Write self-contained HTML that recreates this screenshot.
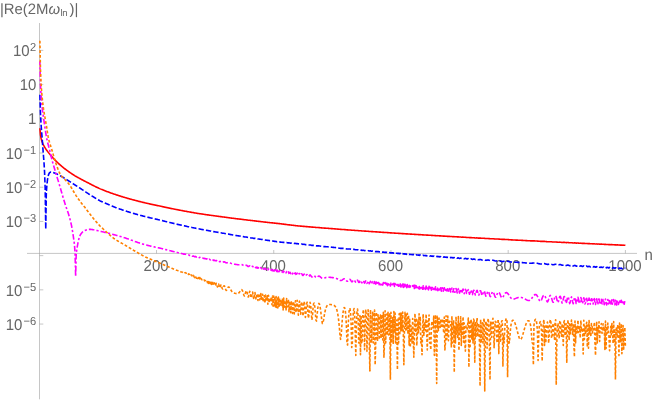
<!DOCTYPE html>
<html>
<head>
<meta charset="utf-8">
<title>|Re(2M omega_ln)| vs n</title>
<style>
html,body{margin:0;padding:0;background:#ffffff;}
body{width:654px;height:401px;overflow:hidden;}
svg{display:block;}
text{font-family:"Liberation Sans",sans-serif;fill:#666666;text-rendering:geometricPrecision;}
.t{font-size:15px;}
.s{font-size:11.1px;}
.ttl{font-size:15px;}
.sub{font-size:9.5px;letter-spacing:-0.4px;}
.c{fill:none;stroke-width:1.6;stroke-linejoin:round;stroke-linecap:butt;}
</style>
</head>
<body>
<svg width="654" height="401" viewBox="0 0 654 401">
<defs><filter id="soft" x="-2%" y="-2%" width="104%" height="104%"><feGaussianBlur stdDeviation="0.25"/></filter></defs>
<rect x="0" y="0" width="654" height="401" fill="#ffffff"/>
<g shape-rendering="auto">
<line x1="39.5" y1="23" x2="39.5" y2="399.3" stroke="#a0a0a0" stroke-width="0.6"/>
<line x1="27" y1="253.4" x2="637" y2="253.4" stroke="#a0a0a0" stroke-width="0.6"/>
<line x1="39.5" y1="50.38" x2="43.3" y2="50.38" stroke="#a0a0a0" stroke-width="0.6"/>
<line x1="39.5" y1="84.59" x2="43.3" y2="84.59" stroke="#a0a0a0" stroke-width="0.6"/>
<line x1="39.5" y1="118.80" x2="43.3" y2="118.80" stroke="#a0a0a0" stroke-width="0.6"/>
<line x1="39.5" y1="153.01" x2="43.3" y2="153.01" stroke="#a0a0a0" stroke-width="0.6"/>
<line x1="39.5" y1="187.22" x2="43.3" y2="187.22" stroke="#a0a0a0" stroke-width="0.6"/>
<line x1="39.5" y1="221.43" x2="43.3" y2="221.43" stroke="#a0a0a0" stroke-width="0.6"/>
<line x1="39.5" y1="255.64" x2="43.3" y2="255.64" stroke="#a0a0a0" stroke-width="0.6"/>
<line x1="39.5" y1="289.85" x2="43.3" y2="289.85" stroke="#a0a0a0" stroke-width="0.6"/>
<line x1="39.5" y1="324.06" x2="43.3" y2="324.06" stroke="#a0a0a0" stroke-width="0.6"/>
<line x1="156.52" y1="250" x2="156.52" y2="253.4" stroke="#a0a0a0" stroke-width="0.6"/>
<line x1="273.74" y1="250" x2="273.74" y2="253.4" stroke="#a0a0a0" stroke-width="0.6"/>
<line x1="390.96" y1="250" x2="390.96" y2="253.4" stroke="#a0a0a0" stroke-width="0.6"/>
<line x1="508.18" y1="250" x2="508.18" y2="253.4" stroke="#a0a0a0" stroke-width="0.6"/>
<line x1="625.40" y1="250" x2="625.40" y2="253.4" stroke="#a0a0a0" stroke-width="0.6"/>
</g>
<g filter="url(#soft)">
<text transform="translate(156.12,270.50) scale(1.0,1.05)" text-anchor="middle" class="t">200</text>
<text transform="translate(273.34,270.50) scale(1.0,1.05)" text-anchor="middle" class="t">400</text>
<text transform="translate(390.56,270.50) scale(1.0,1.05)" text-anchor="middle" class="t">600</text>
<text transform="translate(507.78,270.50) scale(1.0,1.05)" text-anchor="middle" class="t">800</text>
<text transform="translate(625.00,270.50) scale(1.0,1.05)" text-anchor="middle" class="t">1000</text>
<text transform="translate(36.20,56.38) scale(1.0,1.05)" text-anchor="end" class="t">10<tspan dy="-4.9" dx="0.4" class="s">2</tspan></text>
<text transform="translate(36.40,89.99) scale(1.0,1.05)" text-anchor="end" class="t">10</text>
<text transform="translate(36.40,124.20) scale(1.0,1.05)" text-anchor="end" class="t">1</text>
<text transform="translate(36.20,159.01) scale(1.0,1.05)" text-anchor="end" class="t">10<tspan dy="-4.9" dx="1.2" class="s">−1</tspan></text>
<text transform="translate(36.20,193.22) scale(1.0,1.05)" text-anchor="end" class="t">10<tspan dy="-4.9" dx="1.2" class="s">−2</tspan></text>
<text transform="translate(36.20,227.43) scale(1.0,1.05)" text-anchor="end" class="t">10<tspan dy="-4.9" dx="1.2" class="s">−3</tspan></text>
<text transform="translate(36.20,295.85) scale(1.0,1.05)" text-anchor="end" class="t">10<tspan dy="-4.9" dx="1.2" class="s">−5</tspan></text>
<text transform="translate(36.20,330.06) scale(1.0,1.05)" text-anchor="end" class="t">10<tspan dy="-4.9" dx="1.2" class="s">−6</tspan></text>
<text transform="translate(644.60,260.00) scale(1.0,1.05)" text-anchor="start" class="t">n</text>
<text transform="translate(-0.10,14.20) scale(0.993,1.0)" text-anchor="start" class="ttl">|Re(2M<tspan font-style="italic" dx="0.1">ω</tspan><tspan dy="1.9" dx="0.4" class="sub">ln</tspan><tspan dy="-1.9" dx="2.4">)|</tspan></text>
</g>
<path class="c" stroke="#ff0000" d="M39.89,128.20L40.47,134.93L41.06,138.19L41.64,140.38L42.23,142.09L42.82,143.52L43.40,144.78L43.99,145.91L44.57,146.96L45.16,147.93L45.75,148.85L46.33,149.73L46.92,150.56L47.51,151.36L48.09,152.13L48.68,152.88L49.26,153.60L49.85,154.30L50.44,155.01L51.02,155.70L51.61,156.38L52.19,157.04L52.78,157.69L53.37,158.33L53.95,158.96L54.54,159.57L55.12,160.17L55.71,160.76L56.30,161.34L56.88,161.92L57.47,162.48L58.06,163.03L58.64,163.58L59.23,164.12L59.81,164.65L60.40,165.17L60.99,165.69L61.57,166.20L62.16,166.69L62.74,167.16L63.33,167.63L63.92,168.09L64.50,168.54L65.09,168.99L65.67,169.43L66.26,169.87L66.85,170.30L67.43,170.73L68.02,171.15L68.60,171.57L69.19,171.98L69.78,172.39L70.36,172.80L70.95,173.20L71.54,173.59L72.12,173.99L72.71,174.38L73.29,174.76L73.88,175.14L74.47,175.52L75.05,175.89L75.64,176.23L76.22,176.56L76.81,176.89L77.40,177.21L77.98,177.53L78.57,177.85L79.15,178.17L79.74,178.48L80.33,178.80L80.91,179.12L81.50,179.44L82.09,179.76L82.67,180.07L83.26,180.38L83.84,180.69L84.43,180.99L85.02,181.29L85.60,181.59L86.19,181.89L86.77,182.18L87.36,182.47L87.95,182.76L88.53,183.07L89.12,183.39L89.70,183.70L90.29,184.01L90.88,184.31L91.46,184.62L92.05,184.92L92.64,185.22L93.22,185.52L93.81,185.81L94.39,186.10L94.98,186.39L95.57,186.68L96.15,186.97L96.74,187.25L97.32,187.53L97.91,187.81L98.50,188.09L99.08,188.36L99.67,188.64L100.25,188.89L100.84,189.13L101.43,189.37L102.01,189.61L102.60,189.84L103.18,190.08L103.77,190.31L104.36,190.53L104.94,190.76L105.53,190.99L106.12,191.21L106.70,191.43L107.29,191.65L107.87,191.87L108.46,192.08L109.05,192.30L109.63,192.51L110.22,192.72L110.80,192.93L111.39,193.14L111.98,193.34L112.56,193.55L113.15,193.75L113.73,193.95L114.32,194.15L114.91,194.35L115.49,194.55L116.08,194.74L116.67,194.94L117.25,195.13L117.84,195.32L118.42,195.51L119.01,195.70L119.60,195.88L120.18,196.07L120.77,196.25L121.35,196.44L121.94,196.62L122.53,196.80L123.11,196.98L123.70,197.15L124.28,197.33L124.87,197.50L125.46,197.68L126.04,197.85L126.63,198.02L127.21,198.19L127.80,198.36L128.39,198.52L128.97,198.69L129.56,198.86L130.15,199.02L130.73,199.18L131.32,199.34L131.90,199.50L132.49,199.66L133.08,199.82L133.66,199.98L134.25,200.13L134.83,200.29L135.42,200.44L136.01,200.60L136.59,200.75L137.18,200.90L137.76,201.05L138.35,201.20L138.94,201.35L139.52,201.49L140.11,201.64L140.70,201.78L141.28,201.93L141.87,202.07L142.45,202.21L143.04,202.35L143.63,202.49L144.21,202.63L144.80,202.77L145.38,202.91L145.97,203.04L146.56,203.18L147.14,203.32L147.73,203.45L148.31,203.58L148.90,203.71L149.49,203.85L150.07,203.98L150.66,204.11L151.25,204.23L151.83,204.36L152.42,204.49L153.00,204.62L153.59,204.74L154.18,204.87L154.76,204.99L155.35,205.11L155.93,205.24L156.52,205.36L157.11,205.48L157.69,205.60L158.28,205.72L158.86,205.84L159.45,205.96L160.04,206.08L160.62,206.21L161.21,206.34L161.79,206.47L162.38,206.60L162.97,206.73L163.55,206.86L164.14,206.99L164.73,207.12L165.31,207.24L165.90,207.37L166.48,207.50L167.07,207.62L167.66,207.75L168.24,207.87L168.83,207.99L169.41,208.11L170.00,208.24L170.59,208.36L171.17,208.48L171.76,208.60L172.34,208.72L172.93,208.84L173.52,208.95L174.10,209.07L174.69,209.19L175.28,209.31L175.86,209.42L176.45,209.54L177.03,209.65L177.62,209.77L178.21,209.88L178.79,209.99L179.38,210.11L179.96,210.22L180.55,210.33L181.14,210.44L181.72,210.55L182.31,210.66L182.89,210.77L183.48,210.89L184.07,210.99L184.65,211.09L185.24,211.19L185.82,211.30L186.41,211.41L187.00,211.53L187.58,211.64L188.17,211.73L188.76,211.82L189.34,211.93L189.93,212.05L190.51,212.15L191.10,212.24L191.69,212.34L192.27,212.46L192.86,212.56L193.44,212.64L194.03,212.75L194.62,212.86L195.20,212.94L195.79,213.05L196.37,213.16L196.96,213.23L197.55,213.35L198.13,213.44L198.72,213.52L199.31,213.64L199.89,213.71L200.48,213.82L201.06,213.89L201.65,213.99L202.24,214.08L202.82,214.16L203.41,214.25L203.99,214.33L204.58,214.42L205.17,214.50L205.75,214.59L206.34,214.68L206.92,214.75L207.51,214.85L208.10,214.91L208.68,215.02L209.27,215.08L209.86,215.17L210.44,215.26L211.03,215.32L211.61,215.43L212.20,215.50L212.79,215.56L213.37,215.67L213.96,215.73L214.54,215.80L215.13,215.91L215.72,215.98L216.30,216.03L216.89,216.13L217.47,216.22L218.06,216.27L218.65,216.34L219.23,216.44L219.82,216.52L220.40,216.59L220.99,216.65L221.58,216.74L222.16,216.84L222.75,216.93L223.34,216.99L223.92,217.06L224.51,217.14L225.09,217.23L225.68,217.32L226.27,217.40L226.85,217.48L227.44,217.54L228.02,217.61L228.61,217.68L229.20,217.76L229.78,217.84L230.37,217.92L230.95,218.01L231.54,218.09L232.13,218.17L232.71,218.25L233.30,218.32L233.89,218.40L234.47,218.47L235.06,218.55L235.64,218.62L236.23,218.69L236.82,218.77L237.40,218.84L237.99,218.91L238.57,218.98L239.16,219.05L239.75,219.11L240.33,219.17L240.92,219.24L241.50,219.30L242.09,219.38L242.68,219.46L243.26,219.54L243.85,219.62L244.44,219.70L245.02,219.76L245.61,219.81L246.19,219.87L246.78,219.93L247.37,220.02L247.95,220.11L248.54,220.18L249.12,220.22L249.71,220.27L250.30,220.35L250.88,220.45L251.47,220.53L252.05,220.57L252.64,220.63L253.23,220.72L253.81,220.81L254.40,220.85L254.98,220.91L255.57,221.01L256.16,221.09L256.74,221.12L257.33,221.19L257.92,221.30L258.50,221.34L259.09,221.39L259.67,221.50L260.26,221.55L260.85,221.59L261.43,221.70L262.02,221.75L262.60,221.79L263.19,221.90L263.78,221.94L264.36,222.00L264.95,222.11L265.53,222.13L266.12,222.22L266.71,222.29L267.29,222.33L267.88,222.44L268.47,222.45L269.05,222.56L269.64,222.60L270.22,222.67L270.81,222.75L271.40,222.78L271.98,222.89L272.57,222.90L273.15,223.02L273.74,223.03L274.33,223.15L274.91,223.15L275.50,223.27L276.08,223.28L276.67,223.40L277.26,223.41L277.84,223.52L278.43,223.53L279.01,223.65L279.60,223.66L280.19,223.76L280.77,223.81L281.36,223.89L281.95,223.98L282.53,224.02L283.12,224.14L283.70,224.16L284.29,224.27L284.88,224.33L285.46,224.38L286.05,224.50L286.63,224.52L287.22,224.63L287.81,224.69L288.39,224.73L288.98,224.86L289.56,224.89L290.15,224.95L290.74,225.07L291.32,225.09L291.91,225.17L292.50,225.28L293.08,225.30L293.67,225.38L294.25,225.49L294.84,225.52L295.43,225.58L296.01,225.70L296.60,225.75L297.18,225.77L297.77,225.86L298.36,225.94L298.94,225.95L299.53,225.98L300.11,226.08L300.70,226.14L301.29,226.15L301.87,226.19L302.46,226.28L303.05,226.34L303.63,226.36L304.22,226.38L304.80,226.46L305.39,226.55L305.98,226.58L306.56,226.60L307.15,226.64L307.73,226.72L308.32,226.80L308.91,226.84L309.49,226.85L310.08,226.88L310.66,226.94L311.25,227.02L311.84,227.09L312.42,227.13L313.01,227.16L313.59,227.18L314.18,227.22L314.77,227.29L315.35,227.36L315.94,227.43L316.53,227.48L317.11,227.51L317.70,227.54L318.28,227.57L318.87,227.61L319.46,227.66L320.04,227.72L320.63,227.78L321.21,227.84L321.80,227.90L322.39,227.96L322.97,228.00L323.56,228.04L324.14,228.08L324.73,228.12L325.32,228.15L325.90,228.19L326.49,228.23L327.08,228.27L327.66,228.31L328.25,228.36L328.83,228.40L329.42,228.44L330.01,228.49L330.59,228.54L331.18,228.58L331.76,228.63L332.35,228.67L332.94,228.72L333.52,228.76L334.11,228.81L334.69,228.86L335.28,228.90L335.87,228.95L336.45,229.00L337.04,229.05L337.62,229.11L338.21,229.16L338.80,229.22L339.38,229.27L339.97,229.32L340.56,229.37L341.14,229.41L341.73,229.44L342.31,229.47L342.90,229.50L343.49,229.53L344.07,229.56L344.66,229.60L345.24,229.66L345.83,229.72L346.42,229.79L347.00,229.85L347.59,229.89L348.17,229.92L348.76,229.93L349.35,229.95L349.93,229.99L350.52,230.05L351.11,230.12L351.69,230.19L352.28,230.23L352.86,230.25L353.45,230.26L354.04,230.29L354.62,230.35L355.21,230.43L355.79,230.49L356.38,230.51L356.97,230.51L357.55,230.54L358.14,230.61L358.72,230.69L359.31,230.73L359.90,230.73L360.48,230.75L361.07,230.81L361.65,230.90L362.24,230.94L362.83,230.93L363.41,230.95L364.00,231.04L364.59,231.11L365.17,231.12L365.76,231.12L366.34,231.19L366.93,231.28L367.52,231.29L368.10,231.28L368.69,231.35L369.27,231.44L369.86,231.45L370.45,231.44L371.03,231.52L371.62,231.60L372.20,231.58L372.79,231.61L373.38,231.71L373.96,231.74L374.55,231.72L375.14,231.81L375.72,231.88L376.31,231.85L376.89,231.91L377.48,232.00L378.07,231.98L378.65,232.02L379.24,232.12L379.82,232.10L380.41,232.13L381.00,232.24L381.58,232.21L382.17,232.26L382.75,232.36L383.34,232.32L383.93,232.40L384.51,232.46L385.10,232.42L385.69,232.54L386.27,232.55L386.86,232.55L387.44,232.67L388.03,232.62L388.62,232.72L389.20,232.75L389.79,232.74L390.37,232.86L390.96,232.81L391.55,232.92L392.13,232.93L392.72,232.95L393.30,233.04L393.89,233.00L394.48,233.13L395.06,233.08L395.65,233.19L396.23,233.18L396.82,233.23L397.41,233.28L397.99,233.28L398.58,233.38L399.17,233.34L399.75,233.46L400.34,233.41L400.92,233.54L401.51,233.48L402.10,233.62L402.68,233.56L403.27,233.69L403.85,233.63L404.44,233.77L405.03,233.71L405.61,233.84L406.20,233.78L406.78,233.91L407.37,233.86L407.96,233.98L408.54,233.94L409.13,234.05L409.72,234.02L410.30,234.10L410.89,234.11L411.47,234.15L412.06,234.21L412.65,234.20L413.23,234.31L413.82,234.26L414.40,234.39L414.99,234.33L415.58,234.46L416.16,234.42L416.75,234.50L417.33,234.53L417.92,234.53L418.51,234.63L419.09,234.58L419.68,234.71L420.26,234.66L420.85,234.75L421.44,234.78L422.02,234.77L422.61,234.89L423.20,234.83L423.78,234.95L424.37,234.94L424.95,234.96L425.54,235.06L426.13,235.00L426.71,235.13L427.30,235.12L427.88,235.13L428.47,235.24L429.06,235.18L429.64,235.29L430.23,235.31L430.81,235.29L431.40,235.42L431.99,235.38L432.57,235.42L433.16,235.52L433.75,235.46L434.33,235.56L434.92,235.61L435.50,235.56L436.09,235.69L436.68,235.69L437.26,235.67L437.85,235.80L438.43,235.78L439.02,235.78L439.61,235.91L440.19,235.87L440.78,235.88L441.36,236.01L441.95,235.98L442.54,235.98L443.12,236.11L443.71,236.09L444.30,236.08L444.88,236.21L445.47,236.21L446.05,236.17L446.64,236.29L447.23,236.33L447.81,236.28L448.40,236.37L448.98,236.45L449.57,236.40L450.16,236.43L450.74,236.55L451.33,236.54L451.91,236.51L452.50,236.62L453.09,236.68L453.67,236.63L454.26,236.66L454.84,236.78L455.43,236.79L456.02,236.74L456.60,236.83L457.19,236.92L457.78,236.90L458.36,236.88L458.95,236.97L459.53,237.06L460.12,237.02L460.71,237.01L461.29,237.11L461.88,237.19L462.46,237.16L463.05,237.14L463.64,237.23L464.22,237.32L464.81,237.31L465.39,237.27L465.98,237.33L466.57,237.44L467.15,237.47L467.74,237.43L468.33,237.44L468.91,237.53L469.50,237.62L470.08,237.61L470.67,237.57L471.26,237.61L471.84,237.71L472.43,237.78L473.01,237.76L473.60,237.73L474.19,237.77L474.77,237.87L475.36,237.94L475.94,237.94L476.53,237.90L477.12,237.92L477.70,238.00L478.29,238.09L478.88,238.13L479.46,238.11L480.05,238.08L480.63,238.11L481.22,238.20L481.81,238.28L482.39,238.32L482.98,238.31L483.56,238.28L484.15,238.30L484.74,238.36L485.32,238.45L485.91,238.52L486.49,238.53L487.08,238.52L487.67,238.50L488.25,238.52L488.84,238.58L489.42,238.66L490.01,238.73L490.60,238.77L491.18,238.77L491.77,238.75L492.36,238.75L492.94,238.77L493.53,238.82L494.11,238.89L494.70,238.96L495.29,239.02L495.87,239.05L496.46,239.05L497.04,239.04L497.63,239.04L498.22,239.05L498.80,239.08L499.39,239.13L499.97,239.19L500.56,239.25L501.15,239.31L501.73,239.36L502.32,239.39L502.91,239.41L503.49,239.42L504.08,239.42L504.66,239.42L505.25,239.43L505.84,239.45L506.42,239.47L507.01,239.51L507.59,239.55L508.18,239.60L508.77,239.65L509.35,239.70L509.94,239.75L510.52,239.80L511.11,239.84L511.70,239.88L512.28,239.92L512.87,239.95L513.45,239.98L514.04,240.00L514.63,240.03L515.21,240.06L515.80,240.08L516.39,240.10L516.97,240.13L517.56,240.15L518.14,240.18L518.73,240.21L519.32,240.23L519.90,240.26L520.49,240.29L521.07,240.32L521.66,240.35L522.25,240.39L522.83,240.42L523.42,240.45L524.00,240.49L524.59,240.52L525.18,240.56L525.76,240.59L526.35,240.63L526.94,240.66L527.52,240.70L528.11,240.73L528.69,240.76L529.28,240.79L529.87,240.81L530.45,240.83L531.04,240.85L531.62,240.86L532.21,240.88L532.80,240.89L533.38,240.90L533.97,240.91L534.55,240.92L535.14,240.94L535.73,240.97L536.31,241.01L536.90,241.05L537.48,241.10L538.07,241.16L538.66,241.22L539.24,241.27L539.83,241.32L540.42,241.35L541.00,241.37L541.59,241.37L542.17,241.37L542.76,241.37L543.35,241.37L543.93,241.38L544.52,241.41L545.10,241.47L545.69,241.53L546.28,241.60L546.86,241.66L547.45,241.70L548.03,241.71L548.62,241.71L549.21,241.69L549.79,241.68L550.38,241.70L550.97,241.74L551.55,241.81L552.14,241.89L552.72,241.95L553.31,241.98L553.90,241.98L554.48,241.96L555.07,241.94L555.65,241.96L556.24,242.01L556.83,242.09L557.41,242.17L558.00,242.22L558.58,242.21L559.17,242.19L559.76,242.17L560.34,242.19L560.93,242.26L561.52,242.35L562.10,242.42L562.69,242.43L563.27,242.39L563.86,242.37L564.45,242.39L565.03,242.47L565.62,242.56L566.20,242.61L566.79,242.60L567.38,242.56L567.96,242.55L568.55,242.61L569.13,242.71L569.72,242.78L570.31,242.78L570.89,242.74L571.48,242.72L572.06,242.79L572.65,242.89L573.24,242.95L573.82,242.93L574.41,242.88L575.00,242.90L575.58,242.99L576.17,243.09L576.75,243.10L577.34,243.05L577.93,243.03L578.51,243.11L579.10,243.22L579.68,243.25L580.27,243.20L580.86,243.17L581.44,243.24L582.03,243.36L582.61,243.39L583.20,243.33L583.79,243.31L584.37,243.40L584.96,243.51L585.55,243.51L586.13,243.44L586.72,243.46L587.30,243.57L587.89,243.65L588.48,243.60L589.06,243.56L589.65,243.64L590.23,243.75L590.82,243.75L591.41,243.68L591.99,243.72L592.58,243.84L593.16,243.88L593.75,243.81L594.34,243.81L594.92,243.94L595.51,244.00L596.09,243.93L596.68,243.92L597.27,244.04L597.85,244.11L598.44,244.04L599.03,244.03L599.61,244.16L600.20,244.22L600.78,244.14L601.37,244.15L601.96,244.28L602.54,244.31L603.13,244.23L603.71,244.28L604.30,244.41L604.89,244.39L605.47,244.32L606.06,244.43L606.64,244.52L607.23,244.45L607.82,244.44L608.40,244.58L608.99,244.60L609.58,244.52L610.16,244.60L610.75,244.71L611.33,244.64L611.92,244.63L612.51,244.78L613.09,244.78L613.68,244.70L614.26,244.81L614.85,244.89L615.44,244.80L616.02,244.85L616.61,244.98L617.19,244.92L617.78,244.91L618.37,245.05L618.95,245.03L619.54,244.98L620.13,245.10L620.71,245.13L621.30,245.06L621.88,245.17L622.47,245.22L623.06,245.15L623.64,245.23L624.23,245.30L624.81,245.24L625.40,245.31"/>
<path class="c" stroke="#0000ff" stroke-dasharray="5.35 2.15" d="M39.89,94.83L40.47,113.24L41.06,124.35L41.64,132.00L42.23,139.22L42.82,147.53L43.40,154.88L43.99,162.24L44.57,172.10L45.16,188.04L45.75,229.05L46.33,192.48L46.92,184.77L47.51,179.67L48.09,176.36L48.68,174.29L49.26,173.07L49.85,172.43L50.44,172.17L51.02,172.13L51.61,172.20L52.19,172.31L52.78,172.45L53.37,172.62L53.95,172.80L54.54,173.01L55.12,173.24L55.71,173.49L56.30,173.75L56.88,174.02L57.47,174.30L58.06,174.60L58.64,174.90L59.23,175.21L59.81,175.53L60.40,175.85L60.99,176.19L61.57,176.52L62.16,176.87L62.74,177.21L63.33,177.56L63.92,177.92L64.50,178.27L65.09,178.63L65.67,178.99L66.26,179.36L66.85,179.73L67.43,180.09L68.02,180.46L68.60,180.83L69.19,181.21L69.78,181.58L70.36,181.95L70.95,182.33L71.54,182.70L72.12,183.08L72.71,183.45L73.29,183.83L73.88,184.21L74.47,184.58L75.05,184.96L75.64,185.33L76.22,185.71L76.81,186.08L77.40,186.46L77.98,186.83L78.57,187.21L79.15,187.58L79.74,187.95L80.33,188.34L80.91,188.75L81.50,189.15L82.09,189.55L82.67,189.95L83.26,190.34L83.84,190.74L84.43,191.13L85.02,191.52L85.60,191.91L86.19,192.30L86.77,192.69L87.36,193.07L87.95,193.45L88.53,193.83L89.12,194.21L89.70,194.59L90.29,194.96L90.88,195.33L91.46,195.70L92.05,196.06L92.64,196.43L93.22,196.79L93.81,197.15L94.39,197.51L94.98,197.86L95.57,198.21L96.15,198.56L96.74,198.91L97.32,199.26L97.91,199.60L98.50,199.94L99.08,200.28L99.67,200.61L100.25,200.92L100.84,201.20L101.43,201.48L102.01,201.75L102.60,202.02L103.18,202.29L103.77,202.55L104.36,202.82L104.94,203.08L105.53,203.34L106.12,203.60L106.70,203.85L107.29,204.10L107.87,204.35L108.46,204.60L109.05,204.85L109.63,205.09L110.22,205.34L110.80,205.58L111.39,205.81L111.98,206.05L112.56,206.28L113.15,206.51L113.73,206.74L114.32,206.97L114.91,207.20L115.49,207.42L116.08,207.64L116.67,207.86L117.25,208.08L117.84,208.29L118.42,208.51L119.01,208.72L119.60,208.93L120.18,209.14L120.77,209.34L121.35,209.55L121.94,209.75L122.53,209.95L123.11,210.15L123.70,210.35L124.28,210.54L124.87,210.74L125.46,210.93L126.04,211.12L126.63,211.31L127.21,211.50L127.80,211.68L128.39,211.87L128.97,212.05L129.56,212.23L130.15,212.41L130.73,212.59L131.32,212.77L131.90,212.94L132.49,213.12L133.08,213.29L133.66,213.46L134.25,213.63L134.83,213.80L135.42,213.97L136.01,214.14L136.59,214.30L137.18,214.46L137.76,214.63L138.35,214.79L138.94,214.95L139.52,215.11L140.11,215.27L140.70,215.42L141.28,215.58L141.87,215.73L142.45,215.89L143.04,216.04L143.63,216.19L144.21,216.34L144.80,216.49L145.38,216.64L145.97,216.79L146.56,216.93L147.14,217.08L147.73,217.22L148.31,217.37L148.90,217.51L149.49,217.65L150.07,217.79L150.66,217.93L151.25,218.07L151.83,218.20L152.42,218.34L153.00,218.48L153.59,218.61L154.18,218.75L154.76,218.88L155.35,219.01L155.93,219.14L156.52,219.27L157.11,219.40L157.69,219.53L158.28,219.66L158.86,219.79L159.45,219.91L160.04,220.04L160.62,220.20L161.21,220.35L161.79,220.50L162.38,220.65L162.97,220.80L163.55,220.95L164.14,221.10L164.73,221.25L165.31,221.40L165.90,221.55L166.48,221.69L167.07,221.84L167.66,221.98L168.24,222.13L168.83,222.27L169.41,222.42L170.00,222.56L170.59,222.70L171.17,222.84L171.76,222.98L172.34,223.12L172.93,223.26L173.52,223.40L174.10,223.54L174.69,223.68L175.28,223.81L175.86,223.95L176.45,224.08L177.03,224.22L177.62,224.35L178.21,224.49L178.79,224.62L179.38,224.75L179.96,224.89L180.55,225.02L181.14,225.15L181.72,225.28L182.31,225.41L182.89,225.54L183.48,225.69L184.07,225.81L184.65,225.91L185.24,226.02L185.82,226.15L186.41,226.30L187.00,226.46L187.58,226.59L188.17,226.69L188.76,226.77L189.34,226.91L189.93,227.08L190.51,227.21L191.10,227.28L191.69,227.39L192.27,227.57L192.86,227.68L193.44,227.75L194.03,227.91L194.62,228.06L195.20,228.11L195.79,228.26L196.37,228.41L196.96,228.46L197.55,228.64L198.13,228.74L198.72,228.82L199.31,229.01L199.89,229.04L200.48,229.22L201.06,229.29L201.65,229.42L202.24,229.53L202.82,229.62L203.41,229.75L203.99,229.84L204.58,229.97L205.17,230.06L205.75,230.17L206.34,230.29L206.92,230.36L207.51,230.53L208.10,230.56L208.68,230.75L209.27,230.78L209.86,230.92L210.44,231.05L211.03,231.08L211.61,231.26L212.20,231.33L212.79,231.40L213.37,231.58L213.96,231.63L214.54,231.70L215.13,231.88L215.72,231.96L216.30,231.99L216.89,232.15L217.47,232.29L218.06,232.33L218.65,232.40L219.23,232.56L219.82,232.69L220.40,232.74L220.99,232.80L221.58,232.94L222.16,233.10L222.75,233.21L223.34,233.26L223.92,233.32L224.51,233.43L225.09,233.57L225.68,233.72L226.27,233.83L226.85,233.92L227.44,233.98L228.02,234.05L228.61,234.13L229.20,234.24L229.78,234.35L230.37,234.48L230.95,234.60L231.54,234.72L232.13,234.83L232.71,234.94L233.30,235.04L233.89,235.14L234.47,235.24L235.06,235.34L235.64,235.43L236.23,235.53L236.82,235.63L237.40,235.72L237.99,235.81L238.57,235.90L239.16,235.98L239.75,236.05L240.33,236.12L240.92,236.20L241.50,236.28L242.09,236.38L242.68,236.50L243.26,236.63L243.85,236.77L244.44,236.88L245.02,236.95L245.61,236.98L246.19,237.03L246.78,237.12L247.37,237.27L247.95,237.43L248.54,237.52L249.12,237.54L249.71,237.57L250.30,237.70L250.88,237.88L251.47,237.98L252.05,237.98L252.64,238.03L253.23,238.21L253.81,238.35L254.40,238.35L254.98,238.38L255.57,238.58L256.16,238.71L256.74,238.68L257.33,238.77L257.92,238.98L258.50,238.99L259.09,239.00L259.67,239.22L260.26,239.28L260.85,239.26L261.43,239.48L262.02,239.54L262.60,239.53L263.19,239.76L263.78,239.76L264.36,239.82L264.95,240.03L265.53,239.96L266.12,240.15L266.71,240.23L267.29,240.23L267.88,240.46L268.47,240.38L269.05,240.61L269.64,240.60L270.22,240.71L270.81,240.84L271.40,240.82L271.98,241.04L272.57,240.97L273.15,241.23L273.74,241.13L274.33,241.39L274.91,241.29L275.50,241.56L276.08,241.46L276.67,241.73L277.26,241.62L277.84,241.89L278.43,241.78L279.01,242.05L279.60,241.97L280.19,242.17L280.77,242.14L281.36,242.21L281.95,242.32L282.53,242.25L283.12,242.48L283.70,242.34L284.29,242.55L284.88,242.53L285.46,242.54L286.05,242.74L286.63,242.60L287.22,242.80L287.81,242.83L288.39,242.77L288.98,243.00L289.56,242.92L290.15,242.96L290.74,243.17L291.32,243.05L291.91,243.13L292.50,243.32L293.08,243.21L293.67,243.27L294.25,243.47L294.84,243.39L295.43,243.38L296.01,243.60L296.60,243.60L297.18,243.52L297.77,243.70L298.36,243.86L298.94,243.78L299.53,243.80L300.11,244.01L300.70,244.11L301.29,244.03L301.87,244.06L302.46,244.27L303.05,244.38L303.63,244.32L304.22,244.31L304.80,244.47L305.39,244.65L305.98,244.67L306.56,244.60L307.15,244.64L307.73,244.80L308.32,244.97L308.91,245.01L309.49,244.96L310.08,244.95L310.66,245.05L311.25,245.22L311.84,245.36L312.42,245.39L313.01,245.37L313.59,245.35L314.18,245.39L314.77,245.52L315.35,245.67L315.94,245.79L316.53,245.86L317.11,245.87L317.70,245.86L318.28,245.86L318.87,245.89L319.46,245.96L320.04,246.06L320.63,246.18L321.21,246.30L321.80,246.40L322.39,246.48L322.97,246.54L323.56,246.58L324.14,246.61L324.73,246.64L325.32,246.66L325.90,246.69L326.49,246.72L327.08,246.77L327.66,246.81L328.25,246.86L328.83,246.92L329.42,246.97L330.01,247.03L330.59,247.09L331.18,247.15L331.76,247.21L332.35,247.27L332.94,247.33L333.52,247.39L334.11,247.45L334.69,247.51L335.28,247.58L335.87,247.65L336.45,247.73L337.04,247.81L337.62,247.90L338.21,248.00L338.80,248.09L339.38,248.18L339.97,248.27L340.56,248.34L341.14,248.38L341.73,248.41L342.31,248.41L342.90,248.41L343.49,248.40L344.07,248.43L344.66,248.48L345.24,248.58L345.83,248.71L346.42,248.85L347.00,248.96L347.59,249.02L348.17,249.01L348.76,248.97L349.35,248.95L349.93,248.98L350.52,249.10L351.11,249.27L351.69,249.41L352.28,249.46L352.86,249.41L353.45,249.35L354.04,249.37L354.62,249.51L355.21,249.70L355.79,249.81L356.38,249.78L356.97,249.69L357.55,249.70L358.14,249.87L358.72,250.06L359.31,250.11L359.90,250.01L360.48,249.96L361.07,250.11L361.65,250.34L362.24,250.38L362.83,250.25L363.41,250.24L364.00,250.45L364.59,250.63L365.17,250.56L365.76,250.45L366.34,250.60L366.93,250.84L367.52,250.80L368.10,250.66L368.69,250.81L369.27,251.06L369.86,250.99L370.45,250.86L371.03,251.08L371.62,251.27L372.20,251.11L372.79,251.10L373.38,251.40L373.96,251.40L374.55,251.23L375.14,251.46L375.72,251.63L376.31,251.41L376.89,251.54L377.48,251.81L378.07,251.61L378.65,251.66L379.24,251.96L379.82,251.77L380.41,251.81L381.00,252.12L381.58,251.91L382.17,252.00L382.75,252.27L383.34,252.02L383.93,252.22L384.51,252.37L385.10,252.14L385.69,252.48L386.27,252.41L386.86,252.34L387.44,252.68L388.03,252.41L388.62,252.67L389.20,252.71L389.79,252.57L390.37,252.94L390.96,252.65L391.55,252.95L392.13,252.91L392.72,252.88L393.30,253.15L393.89,252.88L394.48,253.29L395.06,253.01L395.65,253.32L396.23,253.20L396.82,253.31L397.41,253.40L397.99,253.32L398.58,253.58L399.17,253.35L399.75,253.72L400.34,253.42L400.92,253.83L401.51,253.51L402.10,253.94L402.68,253.61L403.27,254.03L403.85,253.70L404.44,254.13L405.03,253.80L405.61,254.23L406.20,253.90L406.78,254.32L407.37,254.00L407.96,254.40L408.54,254.13L409.13,254.45L409.72,254.27L410.30,254.49L410.89,254.44L411.47,254.50L412.06,254.62L412.65,254.50L413.23,254.81L413.82,254.52L414.40,254.95L414.99,254.60L415.58,255.02L416.16,254.77L416.75,254.99L417.33,255.01L417.92,254.93L418.51,255.24L419.09,254.93L419.68,255.37L420.26,255.07L420.85,255.33L421.44,255.34L422.02,255.23L422.61,255.60L423.20,255.25L423.78,255.64L424.37,255.50L424.95,255.51L425.54,255.81L426.13,255.47L426.71,255.88L427.30,255.73L427.88,255.71L428.47,256.06L429.06,255.71L429.64,256.05L430.23,256.05L430.81,255.86L431.40,256.30L431.99,256.02L432.57,256.12L433.16,256.42L433.75,256.07L434.33,256.38L434.92,256.47L435.50,256.19L436.09,256.60L436.68,256.52L437.26,256.35L437.85,256.78L438.43,256.60L439.02,256.51L439.61,256.93L440.19,256.70L440.78,256.65L441.36,257.07L441.95,256.84L442.54,256.77L443.12,257.19L443.71,257.00L444.30,256.88L444.88,257.30L445.47,257.20L446.05,256.98L446.64,257.37L447.23,257.43L447.81,257.11L448.40,257.38L448.98,257.64L449.57,257.32L450.16,257.37L450.74,257.77L451.33,257.62L451.91,257.41L452.50,257.76L453.09,257.93L453.67,257.61L454.26,257.66L454.84,258.06L455.43,257.98L456.02,257.71L456.60,257.95L457.19,258.26L457.78,258.06L458.36,257.87L458.95,258.19L459.53,258.43L460.12,258.19L460.71,258.04L461.29,258.37L461.88,258.61L462.46,258.38L463.05,258.21L463.64,258.49L464.22,258.78L464.81,258.63L465.39,258.39L465.98,258.55L466.57,258.90L467.15,258.92L467.74,258.65L468.33,258.60L468.91,258.91L469.50,259.16L470.08,259.03L470.67,258.78L471.26,258.85L471.84,259.19L472.43,259.37L473.01,259.21L473.60,258.98L474.19,259.05L474.77,259.37L475.36,259.59L475.94,259.48L476.53,259.24L477.12,259.20L477.70,259.44L478.29,259.74L478.88,259.81L479.46,259.62L480.05,259.43L480.63,259.46L481.22,259.72L481.81,260.00L482.39,260.06L482.98,259.90L483.56,259.71L484.15,259.67L484.74,259.86L485.32,260.14L485.91,260.33L486.49,260.31L487.08,260.13L487.67,259.97L488.25,259.95L488.84,260.11L489.42,260.37L490.01,260.58L490.60,260.65L491.18,260.56L491.77,260.40L492.36,260.27L492.94,260.26L493.53,260.39L494.11,260.61L494.70,260.83L495.29,260.98L495.87,261.01L496.46,260.93L497.04,260.80L497.63,260.68L498.22,260.63L498.80,260.66L499.39,260.78L499.97,260.95L500.56,261.14L501.15,261.31L501.73,261.42L502.32,261.46L502.91,261.44L503.49,261.37L504.08,261.29L504.66,261.21L505.25,261.15L505.84,261.13L506.42,261.15L507.01,261.21L507.59,261.30L508.18,261.41L508.77,261.54L509.35,261.66L509.94,261.79L510.52,261.90L511.11,261.99L511.70,262.07L512.28,262.13L512.87,262.18L513.45,262.22L514.04,262.24L514.63,262.26L515.21,262.27L515.80,262.29L516.39,262.30L516.97,262.31L517.56,262.33L518.14,262.35L518.73,262.37L519.32,262.40L519.90,262.43L520.49,262.46L521.07,262.50L521.66,262.55L522.25,262.60L522.83,262.65L523.42,262.70L524.00,262.76L524.59,262.82L525.18,262.89L525.76,262.95L526.35,263.01L526.94,263.07L527.52,263.13L528.11,263.18L528.69,263.22L529.28,263.24L529.87,263.26L530.45,263.26L531.04,263.24L531.62,263.21L532.21,263.16L532.80,263.11L533.38,263.06L533.97,263.02L534.55,262.99L535.14,262.99L535.73,263.02L536.31,263.08L536.90,263.19L537.48,263.32L538.07,263.48L538.66,263.65L539.24,263.79L539.83,263.90L540.42,263.96L541.00,263.95L541.59,263.88L542.17,263.77L542.76,263.65L543.35,263.56L543.93,263.53L544.52,263.58L545.10,263.72L545.69,263.92L546.28,264.14L546.86,264.31L547.45,264.40L548.03,264.37L548.62,264.24L549.21,264.08L549.79,263.95L550.38,263.92L550.97,264.03L551.55,264.25L552.14,264.50L552.72,264.70L553.31,264.74L553.90,264.63L554.48,264.43L555.07,264.27L555.65,264.24L556.24,264.40L556.83,264.67L557.41,264.94L558.00,265.04L558.58,264.94L559.17,264.71L559.76,264.53L560.34,264.54L560.93,264.77L561.52,265.09L562.10,265.29L562.69,265.24L563.27,265.00L563.86,264.79L564.45,264.79L565.03,265.05L565.62,265.39L566.20,265.54L566.79,265.39L567.38,265.11L567.96,264.98L568.55,265.16L569.13,265.52L569.72,265.75L570.31,265.64L570.89,265.34L571.48,265.19L572.06,265.39L572.65,265.77L573.24,265.96L573.82,265.77L574.41,265.45L575.00,265.42L575.58,265.75L576.17,266.11L576.75,266.08L577.34,265.75L577.93,265.56L578.51,265.81L579.10,266.23L579.68,266.30L580.27,265.97L580.86,265.74L581.44,265.97L582.03,266.40L582.61,266.46L583.20,266.10L583.79,265.90L584.37,266.22L584.96,266.63L585.55,266.55L586.13,266.15L586.72,266.12L587.30,266.56L587.89,266.82L588.48,266.52L589.06,266.21L589.65,266.48L590.23,266.93L590.82,266.83L591.41,266.42L591.99,266.48L592.58,266.98L593.16,267.07L593.75,266.64L594.34,266.55L594.92,267.04L595.51,267.24L596.09,266.82L596.68,266.66L597.27,267.14L597.85,267.38L598.44,266.95L599.03,266.80L599.61,267.31L600.20,267.49L600.78,267.03L601.37,266.97L601.96,267.52L602.54,267.56L603.13,267.08L603.71,267.21L604.30,267.74L604.89,267.55L605.47,267.14L606.06,267.52L606.64,267.90L607.23,267.46L607.82,267.32L608.40,267.89L608.99,267.88L609.58,267.40L610.16,267.69L610.75,268.13L611.33,267.71L611.92,267.56L612.51,268.14L613.09,268.06L613.68,267.61L614.26,268.03L614.85,268.32L615.44,267.80L616.02,267.92L616.61,268.45L617.19,268.06L617.78,267.90L618.37,268.47L618.95,268.31L619.54,267.96L620.13,268.47L620.71,268.50L621.30,268.07L621.88,268.48L622.47,268.65L623.06,268.21L623.64,268.51L624.23,268.76L624.81,268.34L625.40,268.57"/>
<path class="c" stroke="#ff00ff" stroke-dasharray="2.2 2.1 5.5 2.1" stroke-dashoffset="6" d="M39.89,61.35L40.47,84.59L41.06,95.03L41.64,102.25L42.23,108.18L42.82,112.94L43.40,117.12L43.99,121.04L44.57,124.84L45.16,128.87L45.75,132.96L46.33,136.59L46.92,139.55L47.51,142.04L48.09,144.31L48.68,146.49L49.26,148.70L49.85,150.99L50.44,153.39L51.02,155.81L51.61,158.19L52.19,160.50L52.78,162.69L53.37,164.78L53.95,166.79L54.54,168.76L55.12,170.70L55.71,172.63L56.30,174.56L56.88,176.50L57.47,178.44L58.06,180.38L58.64,182.32L59.23,184.27L59.81,186.21L60.40,188.17L60.99,190.15L61.57,192.17L62.16,194.19L62.74,196.20L63.33,198.19L63.92,200.15L64.50,202.06L65.09,203.93L65.67,205.73L66.26,207.44L66.85,209.10L67.43,210.77L68.02,212.51L68.60,214.36L69.19,216.32L69.78,218.38L70.36,220.59L70.95,223.01L71.54,225.67L72.12,228.75L72.71,232.29L73.29,236.23L73.88,240.23L74.47,244.69L75.05,253.17L75.64,276.47L76.22,253.99L76.81,249.56L77.40,245.78L77.98,242.83L78.57,240.18L79.15,237.89L79.74,236.09L80.33,234.88L80.91,233.97L81.50,233.18L82.09,232.50L82.67,231.92L83.26,231.44L83.84,231.05L84.43,230.73L85.02,230.47L85.60,230.25L86.19,230.05L86.77,229.87L87.36,229.72L87.95,229.58L88.53,229.48L89.12,229.41L89.70,229.37L90.29,229.36L90.88,229.39L91.46,229.45L92.05,229.52L92.64,229.61L93.22,229.71L93.81,229.82L94.39,229.94L94.98,230.06L95.57,230.19L96.15,230.32L96.74,230.45L97.32,230.58L97.91,230.71L98.50,230.85L99.08,231.00L99.67,231.16L100.25,231.30L100.84,231.42L101.43,231.54L102.01,231.67L102.60,231.80L103.18,231.94L103.77,232.07L104.36,232.21L104.94,232.35L105.53,232.48L106.12,232.62L106.70,232.76L107.29,232.90L107.87,233.04L108.46,233.19L109.05,233.34L109.63,233.49L110.22,233.65L110.80,233.81L111.39,233.97L111.98,234.13L112.56,234.29L113.15,234.46L113.73,234.62L114.32,234.78L114.91,234.94L115.49,235.10L116.08,235.27L116.67,235.43L117.25,235.59L117.84,235.75L118.42,235.92L119.01,236.08L119.60,236.25L120.18,236.42L120.77,236.59L121.35,236.76L121.94,236.93L122.53,237.11L123.11,237.29L123.70,237.47L124.28,237.66L124.87,237.85L125.46,238.05L126.04,238.25L126.63,238.45L127.21,238.66L127.80,238.87L128.39,239.08L128.97,239.29L129.56,239.51L130.15,239.72L130.73,239.94L131.32,240.15L131.90,240.36L132.49,240.57L133.08,240.79L133.66,241.00L134.25,241.21L134.83,241.42L135.42,241.63L136.01,241.84L136.59,242.04L137.18,242.25L137.76,242.45L138.35,242.65L138.94,242.84L139.52,243.04L140.11,243.23L140.70,243.42L141.28,243.60L141.87,243.78L142.45,243.96L143.04,244.13L143.63,244.30L144.21,244.47L144.80,244.63L145.38,244.78L145.97,244.94L146.56,245.09L147.14,245.24L147.73,245.39L148.31,245.54L148.90,245.68L149.49,245.82L150.07,245.96L150.66,246.10L151.25,246.24L151.83,246.37L152.42,246.51L153.00,246.64L153.59,246.77L154.18,246.90L154.76,247.03L155.35,247.16L155.93,247.29L156.52,247.41L157.11,247.53L157.69,247.66L158.28,247.78L158.86,247.90L159.45,248.02L160.04,248.15L160.62,248.30L161.21,248.45L161.79,248.60L162.38,248.75L162.97,248.90L163.55,249.05L164.14,249.20L164.73,249.35L165.31,249.50L165.90,249.65L166.48,249.80L167.07,249.94L167.66,250.09L168.24,250.24L168.83,250.39L169.41,250.53L170.00,250.68L170.59,250.83L171.17,250.97L171.76,251.12L172.34,251.27L172.93,251.41L173.52,251.56L174.10,251.70L174.69,251.85L175.28,251.99L175.86,252.14L176.45,252.28L177.03,252.42L177.62,252.56L178.21,252.71L178.79,252.85L179.38,252.99L179.96,253.13L180.55,253.27L181.14,253.41L181.72,253.55L182.31,253.68L182.89,253.82L183.48,254.13L184.07,254.16L184.65,254.15L185.24,254.16L185.82,254.29L186.41,254.58L187.00,254.93L187.58,255.12L188.17,255.05L188.76,254.95L189.34,255.14L189.93,255.58L190.51,255.75L191.10,255.54L191.69,255.62L192.27,256.12L192.86,256.21L193.44,255.96L194.03,256.34L194.62,256.69L195.20,256.37L195.79,256.70L196.37,257.05L196.96,256.70L197.55,257.22L198.13,257.25L198.72,257.13L199.31,257.72L199.89,257.31L200.48,257.90L201.06,257.68L201.65,257.98L202.24,258.06L202.82,258.11L203.41,258.37L203.99,258.31L204.58,258.59L205.17,258.59L205.75,258.74L206.34,258.94L206.92,258.82L207.51,259.34L208.10,258.91L208.68,259.62L209.27,259.24L209.86,259.56L210.44,259.85L211.03,259.47L211.61,260.14L212.20,259.99L212.79,259.85L213.37,260.52L213.96,260.28L214.54,260.17L215.13,260.82L215.72,260.75L216.30,260.44L216.89,260.93L217.47,261.31L218.06,260.97L218.65,260.89L219.23,261.43L219.82,261.75L220.40,261.48L220.99,261.28L221.58,261.59L222.16,262.09L222.75,262.23L223.34,262.00L223.92,261.80L224.51,261.90L225.09,262.28L225.68,262.67L226.27,262.86L226.85,262.82L227.44,262.66L228.02,262.53L228.61,262.51L229.20,262.62L229.78,262.82L230.37,263.07L230.95,263.31L231.54,263.53L232.13,263.72L232.71,263.87L233.30,263.99L233.89,264.10L234.47,264.20L235.06,264.29L235.64,264.39L236.23,264.48L236.82,264.57L237.40,264.65L237.99,264.71L238.57,264.73L239.16,264.71L239.75,264.66L240.33,264.58L240.92,264.51L241.50,264.51L242.09,264.63L242.68,264.90L243.26,265.29L243.85,265.67L244.44,265.88L245.02,265.81L245.61,265.52L246.19,265.30L246.78,265.41L247.37,265.90L247.95,266.44L248.54,266.53L249.12,266.13L249.71,265.84L250.30,266.18L250.88,266.89L251.47,267.05L252.05,266.50L252.64,266.32L253.23,267.02L253.81,267.53L254.40,267.00L254.98,266.70L255.57,267.49L256.16,267.88L256.74,267.15L257.33,267.28L257.92,268.22L258.50,267.80L259.09,267.38L259.67,268.39L260.26,268.27L260.85,267.63L261.43,268.67L262.02,268.53L262.60,267.95L263.19,269.10L263.78,268.55L264.36,268.44L264.95,269.46L265.53,268.45L266.12,269.28L266.71,269.31L267.29,268.79L267.88,269.96L268.47,268.86L269.05,269.96L269.64,269.42L270.22,269.67L270.81,270.07L271.40,269.48L271.98,270.54L272.57,269.49L273.15,270.83L273.74,269.63L274.33,271.03L274.91,269.81L275.50,271.22L276.08,269.99L276.67,271.42L277.26,270.15L277.84,271.61L278.43,270.35L279.01,271.72L279.60,270.67L280.19,271.65L280.77,271.20L281.36,271.37L281.95,271.90L282.53,271.06L283.12,272.46L283.70,271.15L284.29,272.35L284.88,271.94L285.46,271.70L286.05,272.88L286.63,271.57L287.22,272.71L287.81,272.63L288.39,271.88L288.98,273.35L289.56,272.44L290.15,272.39L290.74,273.66L291.32,272.51L291.91,272.78L292.50,273.93L293.08,272.78L293.67,272.95L294.25,274.21L294.84,273.27L295.43,272.95L296.01,274.32L296.60,274.04L297.18,273.07L297.77,273.99L298.36,274.82L298.94,273.81L299.53,273.50L300.11,274.72L300.70,275.07L301.29,274.01L301.87,273.87L302.46,275.04L303.05,275.51L303.63,274.60L304.22,274.10L304.80,274.92L305.39,275.90L305.98,275.64L306.56,274.72L307.15,274.57L307.73,275.44L308.32,276.33L308.91,276.23L309.49,275.42L310.08,274.94L310.66,275.32L311.25,276.24L311.84,276.90L312.42,276.77L313.01,276.11L313.59,275.56L314.18,275.53L314.77,276.06L315.35,276.83L315.94,277.43L316.53,277.55L317.11,277.22L317.70,276.70L318.28,276.27L318.87,276.10L319.46,276.25L320.04,276.65L320.63,277.19L321.21,277.72L321.80,278.14L322.39,278.38L322.97,278.43L323.56,278.33L324.14,278.14L324.73,277.91L325.32,277.69L325.90,277.50L326.49,277.37L327.08,277.28L327.66,277.24L328.25,277.23L328.83,277.26L329.42,277.30L330.01,277.36L330.59,277.42L331.18,277.48L331.76,277.54L332.35,277.60L332.94,277.66L333.52,277.74L334.11,277.82L334.69,277.92L335.28,278.05L335.87,278.22L336.45,278.44L337.04,278.71L337.62,279.03L338.21,279.38L338.80,279.76L339.38,280.11L339.97,280.39L340.56,280.54L341.14,280.51L341.73,280.29L342.31,279.91L342.90,279.46L343.49,279.05L344.07,278.83L344.66,278.88L345.24,279.27L345.83,279.92L346.42,280.66L347.00,281.20L347.59,281.26L348.17,280.80L348.76,280.06L349.35,279.47L349.93,279.39L350.52,279.94L351.11,280.90L351.69,281.69L352.28,281.69L352.86,280.90L353.45,280.00L354.04,279.78L354.62,280.49L355.21,281.67L355.79,282.21L356.38,281.52L356.97,280.40L357.55,280.12L358.14,281.08L358.72,282.35L359.31,282.36L359.90,281.10L360.48,280.35L361.07,281.17L361.65,282.64L362.24,282.60L362.83,281.15L363.41,280.66L364.00,282.02L364.59,283.18L365.17,282.11L365.76,280.85L366.34,281.73L366.93,283.37L367.52,282.62L368.10,281.09L368.69,281.93L369.27,283.65L369.86,282.62L370.45,281.24L371.03,282.64L371.62,283.91L372.20,282.11L372.79,281.69L373.38,283.81L373.96,283.37L374.55,281.61L375.14,283.17L375.72,284.20L376.31,282.04L376.89,282.70L377.48,284.57L378.07,282.51L378.65,282.57L379.24,284.77L379.82,282.77L380.41,282.72L381.00,284.96L381.58,282.77L382.17,283.14L382.75,285.08L383.34,282.59L383.93,283.92L384.51,284.84L385.10,282.51L385.69,285.00L386.27,283.98L386.86,283.11L387.44,285.65L388.03,282.98L388.62,284.72L389.20,284.74L389.79,283.19L390.37,285.97L390.96,283.18L391.55,285.30L392.13,284.53L392.72,283.96L393.30,285.94L393.89,283.31L394.48,286.38L395.06,283.60L395.65,285.87L396.23,284.47L396.82,285.05L397.41,285.47L397.99,284.39L398.58,286.27L399.17,284.03L399.75,286.78L400.34,283.93L400.92,287.06L401.51,283.96L402.10,287.23L402.68,284.06L403.27,287.36L403.85,284.17L404.44,287.48L405.03,284.28L405.61,287.59L406.20,284.41L406.78,287.65L407.37,284.61L407.96,287.60L408.54,284.92L409.13,287.38L409.72,285.42L410.30,286.94L410.89,286.14L411.47,286.32L412.06,287.04L412.65,285.66L413.23,287.96L413.82,285.19L414.40,288.54L414.99,285.18L415.58,288.39L416.16,285.86L416.75,287.45L417.33,287.18L417.92,286.22L418.51,288.59L419.09,285.53L419.68,289.03L420.26,286.01L420.85,287.94L421.44,287.66L422.02,286.34L422.61,289.26L423.20,285.87L423.78,288.93L424.37,287.26L424.95,287.00L425.54,289.36L426.13,286.07L426.71,289.26L427.30,287.57L427.88,287.06L428.47,289.82L429.06,286.40L429.64,288.97L430.23,288.63L430.81,286.66L431.40,290.17L431.99,287.36L432.57,287.82L433.16,290.17L433.75,286.77L434.33,289.10L434.92,289.56L435.50,286.80L436.09,290.05L436.68,288.94L437.26,287.13L437.85,290.61L438.43,288.57L439.02,287.49L439.61,290.92L440.19,288.48L440.78,287.73L441.36,291.11L441.95,288.65L442.54,287.80L443.12,291.22L443.71,289.10L444.30,287.73L444.88,291.13L445.47,289.85L446.05,287.66L446.64,290.69L447.23,290.87L447.81,287.85L448.40,289.80L448.98,291.83L449.57,288.65L450.16,288.72L450.74,292.00L451.33,290.25L451.91,288.13L452.50,290.81L453.09,292.07L453.67,288.90L454.26,289.04L454.84,292.30L455.43,291.18L456.02,288.53L456.60,290.24L457.19,292.87L457.78,290.53L458.36,288.69L458.95,291.08L459.53,293.09L460.12,290.42L460.71,288.93L461.29,291.40L461.88,293.36L462.46,290.82L463.05,289.09L463.64,291.17L464.22,293.65L464.81,291.79L465.39,289.39L465.98,290.44L466.57,293.44L467.15,293.25L467.74,290.38L468.33,289.69L468.91,292.13L469.50,294.27L470.08,292.52L470.67,290.03L471.26,290.31L471.84,293.04L472.43,294.58L473.01,292.55L473.60,290.25L474.19,290.50L474.77,293.06L475.36,294.95L475.94,293.50L476.53,290.98L477.12,290.34L477.70,292.14L478.29,294.72L478.88,295.07L479.46,292.84L480.05,290.83L480.63,290.83L481.22,292.82L481.81,295.21L482.39,295.53L482.98,293.53L483.56,291.44L484.15,290.89L484.74,292.19L485.32,294.54L485.91,296.14L486.49,295.52L487.08,293.43L487.67,291.66L488.25,291.22L488.84,292.29L489.42,294.35L490.01,296.23L490.60,296.62L491.18,295.30L491.77,293.36L492.36,291.93L492.94,291.58L493.53,292.36L494.11,294.00L494.70,295.88L495.29,297.13L495.87,297.09L496.46,295.90L497.04,294.25L497.63,292.85L498.22,292.08L498.80,292.08L499.39,292.79L499.97,294.05L500.56,295.58L501.15,296.98L501.73,297.85L502.32,297.94L502.91,297.31L503.49,296.22L504.08,295.01L504.66,293.93L505.25,293.13L505.84,292.67L506.42,292.56L507.01,292.78L507.59,293.27L508.18,293.97L508.77,294.82L509.35,295.74L509.94,296.64L510.52,297.46L511.11,298.15L511.70,298.66L512.28,298.99L512.87,299.15L513.45,299.15L514.04,299.04L514.63,298.86L515.21,298.62L515.80,298.37L516.39,298.12L516.97,297.90L517.56,297.70L518.14,297.54L518.73,297.43L519.32,297.36L519.90,297.34L520.49,297.37L521.07,297.44L521.66,297.55L522.25,297.70L522.83,297.90L523.42,298.14L524.00,298.41L524.59,298.71L525.18,299.04L525.76,299.38L526.35,299.71L526.94,300.02L527.52,300.28L528.11,300.46L528.69,300.52L529.28,300.43L529.87,300.19L530.45,299.76L531.04,299.18L531.62,298.46L532.21,297.66L532.80,296.83L533.38,296.04L533.97,295.35L534.55,294.82L535.14,294.53L535.73,294.50L536.31,294.79L536.90,295.40L537.48,296.34L538.07,297.55L538.66,298.90L539.24,300.18L539.83,301.09L540.42,301.34L541.00,300.81L541.59,299.62L542.17,298.11L542.76,296.65L543.35,295.56L543.93,295.05L544.52,295.24L545.10,296.16L545.69,297.71L546.28,299.61L546.86,301.25L547.45,301.89L548.03,301.13L548.62,299.35L549.21,297.38L549.79,295.94L550.38,295.46L550.97,296.11L551.55,297.82L552.14,300.12L552.72,301.98L553.31,302.17L553.90,300.49L554.48,298.11L555.07,296.32L555.65,295.85L556.24,296.92L556.83,299.26L557.41,301.80L558.00,302.71L558.58,301.09L559.17,298.39L559.76,296.47L560.34,296.31L560.93,298.06L561.52,300.98L562.10,303.02L562.69,302.06L563.27,299.12L563.86,296.83L564.45,296.61L565.03,298.67L565.62,301.91L566.20,303.39L566.79,301.27L567.38,298.08L567.96,296.66L568.55,297.95L569.13,301.25L569.72,303.60L570.31,301.92L570.89,298.50L571.48,296.91L572.06,298.38L572.65,301.93L573.24,303.78L573.82,301.21L574.41,297.90L575.00,297.35L575.58,300.06L576.17,303.56L576.75,302.92L577.34,299.18L577.93,297.36L578.51,299.24L579.10,303.12L579.68,303.57L580.27,299.83L580.86,297.58L581.44,299.30L582.03,303.29L582.61,303.56L583.20,299.64L583.79,297.76L584.37,300.17L584.96,304.03L585.55,302.78L586.13,298.81L586.72,298.31L587.30,301.97L587.89,304.41L588.48,300.94L589.06,298.12L589.65,300.07L590.23,304.17L590.82,302.81L591.41,298.81L591.99,299.06L592.58,303.29L593.16,303.91L593.75,299.63L594.34,298.71L594.92,302.64L595.51,304.38L596.09,300.17L596.68,298.71L597.27,302.49L597.85,304.51L598.44,300.27L599.03,298.89L599.61,302.85L600.20,304.36L600.78,299.96L601.37,299.31L601.96,303.66L602.54,303.76L603.13,299.42L603.71,300.18L604.30,304.60L604.89,302.51L605.47,299.07L606.06,301.77L606.64,304.89L607.23,300.79L607.82,299.53L608.40,303.88L608.99,303.58L609.58,299.47L610.16,301.41L610.75,305.00L611.33,301.09L611.92,299.79L612.51,304.19L613.09,303.23L613.68,299.54L614.26,302.44L614.85,304.72L615.44,300.30L616.02,300.95L616.61,305.04L617.19,301.55L617.78,300.17L618.37,304.40L618.95,302.76L619.54,300.02L620.13,303.57L620.71,303.58L621.30,300.22L621.88,302.89L622.47,304.02L623.06,300.53L623.64,302.47L624.23,304.17L624.81,300.84L625.40,302.28"/>
<path class="c" stroke="#ff8000" stroke-dasharray="2.8 1.95" d="M39.89,40.71L40.47,68.97L41.06,83.09L41.64,91.75L42.23,98.12L42.82,103.46L43.40,108.07L43.99,111.89L44.57,115.31L45.16,118.57L45.75,121.79L46.33,125.06L46.92,128.66L47.51,132.74L48.09,136.42L48.68,139.21L49.26,141.49L49.85,143.49L50.44,145.35L51.02,147.17L51.61,149.04L52.19,151.00L52.78,153.04L53.37,155.10L53.95,157.13L54.54,159.09L55.12,160.97L55.71,162.73L56.30,164.46L56.88,166.18L57.47,167.85L58.06,169.42L58.64,170.88L59.23,172.19L59.81,173.34L60.40,174.34L60.99,175.22L61.57,176.00L62.16,176.72L62.74,177.38L63.33,178.00L63.92,178.59L64.50,179.18L65.09,179.76L65.67,180.35L66.26,180.95L66.85,181.57L67.43,182.22L68.02,182.90L68.60,183.62L69.19,184.39L69.78,185.22L70.36,186.10L70.95,187.03L71.54,187.99L72.12,188.98L72.71,189.98L73.29,190.98L73.88,191.98L74.47,192.98L75.05,193.95L75.64,194.91L76.22,195.84L76.81,196.74L77.40,197.61L77.98,198.44L78.57,199.26L79.15,200.06L79.74,200.85L80.33,201.63L80.91,202.40L81.50,203.16L82.09,203.91L82.67,204.66L83.26,205.40L83.84,206.14L84.43,206.87L85.02,207.59L85.60,208.37L86.19,209.14L86.77,209.91L87.36,210.69L87.95,211.46L88.53,212.23L89.12,212.99L89.70,213.76L90.29,214.52L90.88,215.27L91.46,216.02L92.05,216.76L92.64,217.49L93.22,218.22L93.81,218.93L94.39,219.64L94.98,220.33L95.57,221.02L96.15,221.70L96.74,222.37L97.32,223.04L97.91,223.69L98.50,224.35L99.08,224.99L99.67,225.63L100.25,226.24L100.84,226.80L101.43,227.36L102.01,227.91L102.60,228.46L103.18,229.00L103.77,229.55L104.36,230.09L104.94,230.63L105.53,231.18L106.12,231.73L106.70,232.27L107.29,232.82L107.87,233.36L108.46,233.89L109.05,234.42L109.63,234.94L110.22,235.45L110.80,235.96L111.39,236.45L111.98,236.93L112.56,237.41L113.15,237.87L113.73,238.31L114.32,238.74L114.91,239.16L115.49,239.56L116.08,239.95L116.67,240.32L117.25,240.68L117.84,241.03L118.42,241.37L119.01,241.70L119.60,242.03L120.18,242.36L120.77,242.68L121.35,243.01L121.94,243.34L122.53,243.67L123.11,244.00L123.70,244.35L124.28,244.69L124.87,245.04L125.46,245.39L126.04,245.74L126.63,246.09L127.21,246.45L127.80,246.80L128.39,247.15L128.97,247.50L129.56,247.85L130.15,248.21L130.73,248.56L131.32,248.92L131.90,249.28L132.49,249.63L133.08,249.99L133.66,250.34L134.25,250.69L134.83,251.04L135.42,251.39L136.01,251.74L136.59,252.08L137.18,252.42L137.76,252.76L138.35,253.10L138.94,253.44L139.52,253.77L140.11,254.10L140.70,254.43L141.28,254.75L141.87,255.08L142.45,255.40L143.04,255.71L143.63,256.03L144.21,256.34L144.80,256.65L145.38,256.93L145.97,257.19L146.56,257.46L147.14,257.72L147.73,257.98L148.31,258.24L148.90,258.50L149.49,258.76L150.07,259.02L150.66,259.27L151.25,259.52L151.83,259.77L152.42,260.02L153.00,260.27L153.59,260.52L154.18,260.76L154.76,261.01L155.35,261.25L155.93,261.49L156.52,261.73L157.11,261.97L157.69,262.20L158.28,262.43L158.86,262.67L159.45,262.90L160.04,263.13L160.62,263.40L161.21,263.68L161.79,263.95L162.38,264.22L162.97,264.49L163.55,264.76L164.14,265.03L164.73,265.29L165.31,265.55L165.90,265.81L166.48,266.07L167.07,266.33L167.66,266.58L168.24,266.84L168.83,267.09L169.41,267.34L170.00,267.58L170.59,267.83L171.17,268.07L171.76,268.31L172.34,268.55L172.93,268.78L173.52,269.02L174.10,269.25L174.69,269.48L175.28,269.70L175.86,269.93L176.45,270.15L177.03,270.38L177.62,270.60L178.21,270.82L178.79,271.03L179.38,271.25L179.96,271.47L180.55,271.68L181.14,271.90L181.72,272.11L182.31,272.32L182.89,272.54L183.48,273.37L184.07,273.19L184.65,272.87L185.24,272.66L185.82,272.86L186.41,273.62L187.00,274.62L187.58,275.05L188.17,274.51L188.76,273.86L189.34,274.30L189.93,275.66L190.51,276.02L191.10,274.96L191.69,274.96L192.27,276.58L192.86,276.64L193.44,275.41L194.03,276.57L194.62,277.65L195.20,276.13L195.79,277.14L196.37,278.25L196.96,276.60L197.55,278.39L198.13,278.20L198.72,277.48L199.31,279.61L199.89,277.64L200.48,279.80L201.06,278.62L201.65,279.59L202.24,279.65L202.82,279.59L203.41,280.42L203.99,279.90L204.58,280.84L205.17,280.52L205.75,280.91L206.34,281.52L206.92,280.66L207.51,282.76L208.10,280.51L208.68,283.44L209.27,281.38L209.86,282.55L210.44,283.61L211.03,281.51L211.61,284.38L212.20,283.30L212.79,282.37L213.37,285.34L213.96,283.75L214.54,282.90L215.13,285.83L215.72,285.09L216.30,283.22L216.89,285.32L217.47,286.98L218.06,284.79L218.65,284.09L219.23,286.49L219.82,287.89L220.40,286.04L220.99,284.71L221.58,285.97L222.16,288.38L222.75,288.89L223.34,287.21L223.92,285.81L224.51,286.04L225.09,287.71L225.68,289.63L226.27,290.44L226.85,289.79L227.44,288.49L228.02,287.42L228.61,287.00L229.20,287.23L229.78,287.97L230.37,288.97L230.95,290.04L231.54,290.99L232.13,291.74L232.71,292.29L233.30,292.66L233.89,292.92L234.47,293.12L235.06,293.30L235.64,293.44L236.23,293.59L236.82,293.70L237.40,293.72L237.99,293.59L238.57,293.23L239.16,292.61L239.75,291.77L240.33,290.85L240.92,290.06L241.50,289.66L242.09,289.93L242.68,291.05L243.26,292.94L243.85,295.04L244.44,296.03L245.02,294.92L245.61,292.55L246.19,290.79L246.78,291.01L247.37,293.53L247.95,296.76L248.54,296.84L249.12,293.50L249.71,291.31L250.30,292.90L250.88,297.23L251.47,297.83L252.05,293.52L252.64,292.03L253.23,295.97L253.81,299.31L254.40,294.80L254.98,292.50L255.57,297.16L256.16,299.58L256.74,293.86L257.33,294.20L257.92,300.52L258.50,296.60L259.09,293.46L259.67,299.92L260.26,298.36L260.85,293.66L261.43,300.27L262.02,298.53L262.60,294.20L263.19,301.94L263.78,297.06L264.36,295.84L264.95,303.16L265.53,294.98L266.12,300.23L266.71,299.83L267.29,295.76L267.88,304.26L268.47,295.33L269.05,302.79L269.64,297.99L270.22,299.23L270.81,301.74L271.40,296.96L271.98,304.71L272.57,296.12L273.15,306.17L273.74,296.11L274.33,306.69L274.91,296.37L275.50,307.03L276.08,296.59L276.67,307.54L277.26,296.75L277.84,307.98L278.43,297.11L279.01,307.53L279.60,298.22L280.19,305.26L280.77,300.86L281.36,301.59L281.95,305.54L282.53,298.45L283.12,309.95L283.70,298.16L284.29,307.08L284.88,302.68L285.46,300.36L286.05,310.53L286.63,298.62L287.22,306.95L287.81,305.49L288.39,299.24L288.98,311.60L289.56,302.13L290.15,301.26L290.74,312.82L291.32,301.10L291.91,302.52L292.50,313.34L293.08,301.53L293.67,302.22L294.25,314.04L294.84,303.56L295.43,300.83L296.01,312.46L296.60,308.39L297.18,300.25L297.77,306.56L298.36,315.15L298.94,303.82L299.53,301.17L300.11,310.84L300.70,314.21L301.29,303.19L301.87,301.75L302.46,310.97L303.05,316.14L303.63,305.41L304.22,301.39L304.80,306.86L305.39,317.36L305.98,312.61L306.56,303.66L307.15,302.19L307.73,308.25L308.32,318.11L308.91,315.33L309.49,306.19L310.08,302.36L310.66,304.45L311.25,311.82L311.84,319.98L312.42,316.74L313.01,308.48L313.59,303.70L314.18,303.10L314.77,306.32L315.35,312.83L315.94,320.18L316.53,321.13L317.11,314.98L317.70,308.79L318.28,304.95L318.87,303.45L319.46,304.00L320.04,306.34L320.63,310.22L321.21,315.22L321.80,320.31L322.39,323.51L322.97,323.17L323.56,320.13L324.14,316.35L324.73,312.94L325.32,310.21L325.90,308.17L326.49,306.71L327.08,305.71L327.66,305.08L328.25,304.71L328.83,304.53L329.42,304.48L330.01,304.50L330.59,304.57L331.18,304.64L331.76,304.73L332.35,304.84L332.94,304.97L333.52,305.15L334.11,305.43L334.69,305.85L335.28,306.48L335.87,307.39L336.45,308.71L337.04,310.56L337.62,313.13L338.21,316.63L338.80,321.35L339.38,327.53L339.97,334.70L340.56,339.32L341.14,335.79L341.73,327.42L342.31,319.55L342.90,313.58L343.49,309.61L344.07,307.61L344.66,307.68L345.24,310.17L345.83,315.84L346.42,326.35L347.00,344.05L347.59,344.99L348.17,326.10L348.76,314.73L349.35,309.17L349.93,308.23L350.52,312.14L351.11,323.01L351.69,347.47L352.28,344.64L352.86,320.58L353.45,310.66L354.04,308.62L354.62,314.05L355.21,331.78L355.79,355.41L356.38,325.80L356.97,311.54L357.55,309.03L358.14,316.99L358.72,343.00L359.31,343.00L359.90,315.59L360.48,354.80L361.07,315.37L361.65,343.00L362.24,343.00L362.83,313.71L363.41,309.54L364.00,322.61L364.59,349.60L365.17,322.42L365.76,309.50L366.34,316.46L366.93,351.34L367.52,327.79L368.10,309.92L368.69,316.51L369.27,343.00L369.86,371.00L370.45,309.65L371.03,322.86L371.62,343.00L372.20,315.42L372.79,311.53L373.38,343.00L373.96,332.34L374.55,310.01L375.14,364.80L375.72,343.00L376.31,312.11L376.89,317.59L377.48,341.20L378.07,314.81L378.65,314.98L379.24,339.59L379.82,315.96L380.41,315.02L381.00,338.37L381.58,314.73L382.17,317.70L382.75,339.90L383.34,312.18L383.93,357.30L384.51,343.00L385.10,310.72L385.69,343.00L386.27,323.99L386.86,314.13L387.44,335.26L388.03,312.42L388.62,334.98L389.20,334.04L389.79,313.02L390.37,379.80L390.96,312.29L391.55,343.00L392.13,324.86L392.72,317.54L393.30,344.04L393.89,311.62L394.48,333.01L395.06,313.02L395.65,343.00L396.23,319.93L396.82,326.93L397.41,369.80L397.99,317.63L398.58,343.00L399.17,313.89L399.75,335.30L400.34,312.48L400.92,331.43L401.51,312.12L402.10,330.44L402.68,312.16L403.27,330.13L403.85,364.80L404.44,329.89L405.03,312.39L405.61,329.91L406.20,312.67L406.78,330.85L407.37,313.40L407.96,334.17L408.54,315.05L409.13,345.10L409.72,318.43L410.30,347.39L410.89,325.44L411.47,327.45L412.06,343.00L412.65,318.48L413.23,337.51L413.82,357.30L414.40,328.18L414.99,313.41L415.58,332.48L416.16,317.86L416.75,345.74L417.33,334.87L417.92,319.93L418.51,333.65L419.09,313.71L419.68,328.08L420.26,316.58L420.85,343.00L421.44,338.97L422.02,354.80L422.61,328.37L423.20,314.06L423.78,336.25L424.37,326.33L424.95,322.62L425.54,330.62L426.13,314.10L426.71,334.19L427.30,349.90L427.88,321.06L428.47,327.60L429.06,314.99L429.64,343.00L430.23,343.00L430.81,349.90L431.40,326.35L431.99,321.23L432.57,325.90L433.16,328.06L433.75,315.47L434.33,355.36L434.92,343.00L435.50,314.87L436.09,333.65L436.68,383.50L437.26,316.31L437.85,327.47L438.43,330.71L439.02,318.13L439.61,325.70L440.19,327.34L440.78,319.09L441.36,325.32L441.95,327.94L442.54,318.63L443.12,325.89L443.71,333.08L444.30,317.13L444.88,349.90L445.47,343.00L446.05,315.76L446.64,339.37L447.23,336.30L447.81,316.17L448.40,340.70L448.98,325.28L449.57,321.35L450.16,321.54L450.74,325.29L451.33,347.48L451.91,316.03L452.50,343.00L453.09,326.81L453.67,320.69L454.26,372.30L454.84,326.28L455.43,343.00L456.02,316.59L456.60,334.33L457.19,323.39L457.78,338.62L458.36,316.46L458.95,350.61L459.53,323.57L460.12,332.12L460.71,316.82L461.29,345.50L461.88,323.32L462.46,335.86L463.05,316.71L463.64,342.12L464.22,322.93L464.81,343.00L465.39,351.10L465.98,325.97L466.57,326.54L467.15,329.05L467.74,323.87L468.33,318.01L468.91,367.23L469.50,322.35L470.08,348.20L470.67,319.21L471.26,320.94L471.84,339.04L472.43,322.23L473.01,343.00L473.60,319.17L474.19,320.70L474.77,362.30L475.36,321.84L475.94,337.33L476.53,323.13L477.12,318.01L477.70,336.64L478.29,325.44L478.88,323.35L479.46,343.00L480.05,386.00L480.63,319.46L481.22,343.00L481.81,324.49L482.39,322.74L482.98,343.00L483.56,322.28L484.15,318.14L484.74,391.00L485.32,334.86L485.91,321.34L486.49,325.69L487.08,348.26L487.67,321.52L488.25,318.26L488.84,326.09L489.42,343.00L490.01,379.80L490.60,321.37L491.18,332.10L491.77,337.27L492.36,320.96L492.94,318.35L493.53,323.51L494.11,347.80L494.70,329.43L495.29,321.24L495.87,321.74L496.46,330.95L497.04,343.00L497.63,325.08L498.22,319.15L498.80,353.60L499.39,323.47L499.97,337.87L500.56,341.09L501.15,325.54L501.73,320.95L502.32,320.79L502.91,366.10L503.49,334.73L504.08,343.00L504.66,330.60L505.25,322.80L505.84,319.45L506.42,318.56L507.01,319.59L507.59,377.30L508.18,328.15L508.77,339.21L509.35,343.00L509.94,336.95L510.52,328.55L511.11,324.24L511.70,321.84L512.28,320.62L512.87,320.21L513.45,320.43L514.04,321.15L514.63,322.29L515.21,323.77L515.80,325.55L516.39,327.57L516.97,329.76L517.56,332.04L518.14,334.30L518.73,336.38L519.32,338.08L519.90,339.17L520.49,339.54L521.07,339.14L521.66,338.08L522.25,336.51L522.83,334.61L523.42,332.55L524.00,330.44L524.59,328.40L525.18,326.49L525.76,324.77L526.35,323.29L526.94,322.09L527.52,321.21L528.11,320.72L528.69,320.68L529.28,321.22L529.87,322.50L530.45,324.81L531.04,328.78L531.62,336.01L532.21,343.00L532.80,343.00L533.38,364.80L533.97,325.19L534.55,321.47L535.14,319.58L535.73,319.26L536.31,320.65L536.90,324.30L537.48,332.16L538.07,360.50L538.66,337.39L539.24,326.66L539.83,322.38L540.42,321.58L541.00,324.12L541.59,332.13L542.17,361.14L542.76,331.67L543.35,322.66L543.93,319.55L544.52,345.50L545.10,325.92L545.69,343.00L546.28,336.33L546.86,324.63L547.45,322.11L548.03,325.80L548.62,343.17L549.21,334.64L549.79,322.34L550.38,319.50L550.97,322.88L551.55,338.11L552.14,336.51L552.72,323.99L553.31,323.43L553.90,334.21L554.48,339.18L555.07,322.45L555.65,319.70L556.24,384.90L556.83,343.00L557.41,327.18L558.00,323.23L558.58,332.75L559.17,337.82L559.76,321.52L560.34,320.46L560.93,332.34L561.52,336.27L562.10,323.63L562.69,328.58L563.27,345.36L563.86,321.99L564.45,320.66L565.03,335.93L565.62,331.28L566.20,323.74L566.79,362.90L567.38,328.67L567.96,319.85L568.55,327.08L569.13,340.28L569.72,323.91L570.31,333.79L570.89,330.16L571.48,319.94L572.06,328.54L572.65,335.13L573.24,324.12L573.82,343.00L574.41,356.90L575.00,320.96L575.58,343.00L576.17,325.90L576.75,329.57L577.34,332.57L577.93,320.10L578.51,332.48L579.10,329.22L579.68,326.90L580.27,338.01L580.86,320.26L581.44,331.34L582.03,329.21L582.61,327.83L583.20,353.90L583.79,320.30L584.37,339.39L584.96,326.12L585.55,334.45L586.13,325.42L586.72,322.24L587.30,347.07L587.89,325.03L588.48,348.26L589.06,320.58L589.65,334.38L590.23,326.68L590.82,336.78L591.41,323.62L591.99,324.97L592.58,333.03L593.16,328.82L593.75,328.39L594.34,322.22L594.92,341.51L595.51,355.40L596.09,332.10L596.68,321.55L597.27,343.00L597.85,326.62L598.44,332.01L599.03,321.88L599.61,341.40L600.20,327.90L600.78,328.30L601.37,323.60L601.96,333.27L602.54,332.61L603.13,323.81L603.71,328.99L604.30,327.41L604.89,349.45L605.47,321.16L606.06,348.48L606.64,326.32L607.23,333.21L607.82,323.15L608.40,333.44L608.99,336.61L609.58,350.80L610.16,339.64L610.75,326.41L611.33,334.64L611.92,323.59L612.51,331.92L613.09,343.73L613.68,321.66L614.26,343.00L614.85,328.69L615.44,379.50L616.02,331.12L616.61,327.03L617.19,337.74L617.78,324.47L618.37,331.60L618.95,355.60L619.54,323.08L620.13,341.65L620.71,341.62L621.30,323.86L621.88,353.75L622.47,336.22L623.06,325.55L623.64,349.22L624.23,335.01L624.81,327.35L625.40,346.52"/>
</svg>
</body>
</html>
